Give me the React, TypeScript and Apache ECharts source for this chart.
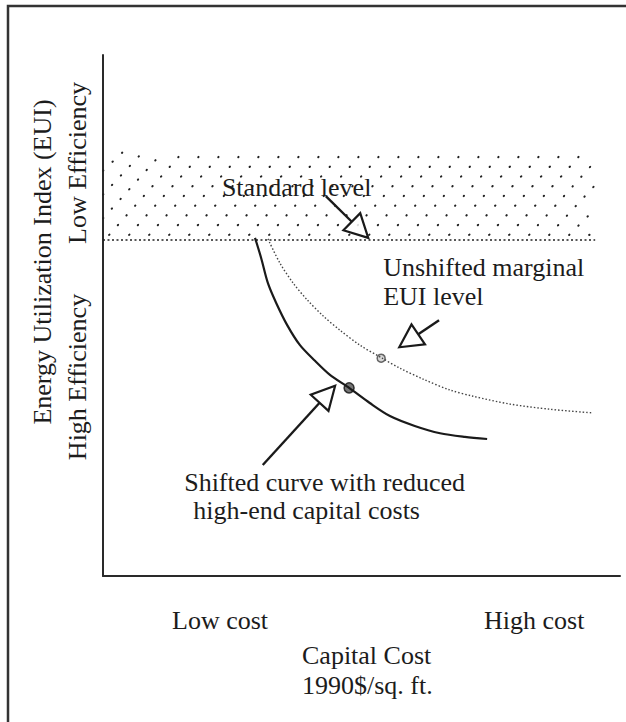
import React, { useEffect, useRef } from "react";
import * as echarts from "echarts";

// Conceptual axes: x = capital cost (0 = low, 100 = high), y = EUI (100 = low efficiency, 0 = high efficiency)
const standardLevel = 64.5;
const hatchTop = 81.4;
const hatchRight = 95.2;

const shiftedX = [29.4, 30.6, 31.9, 33.5, 35.6, 38.1, 41.0, 43.9, 47.6, 51.6, 55.5, 60.3, 65.2, 70.0, 74.3];
const shiftedY = [64.9, 61.0, 56.2, 52.4, 48.2, 44.3, 41.3, 38.6, 36.1, 33.2, 30.7, 28.8, 27.4, 26.7, 26.3];

const unshiftedX = [31.9, 34.2, 36.8, 39.5, 42.6, 45.8, 49.7, 54.0, 57.4, 61.9, 67.1, 71.6, 78.7, 86.5, 94.8];
const unshiftedY = [64.7, 60.1, 56.2, 53.0, 49.9, 47.2, 44.3, 41.8, 39.9, 37.8, 35.7, 34.5, 33.0, 32.0, 31.3];

const shiftedMarker = [47.6, 36.1];
const unshiftedMarker = [53.8, 41.8];

// [tailX, tailY, tipX, tipY]
const arrows = [
  [43.1, 72.9, 51.3, 64.9],
  [65.0, 49.1, 57.3, 43.9],
  [30.9, 21.3, 44.9, 36.5],
];

const annotationTexts = [
  "Standard level",
  "Unshifted marginal",
  "EUI level",
  "Shifted curve with reduced",
  " high-end capital costs",
];
const annotationX = [23.0, 54.2, 54.2, 15.7, 16.2];
const annotationY = [74.5, 59.3, 53.6, 18.0, 12.5];

const xTickLabels = ["Low cost", "High cost"];
const xTitle = ["Capital Cost", "1990$/sq. ft."];
const yTitle = "Energy Utilization Index (EUI)";
const yBandLabels = ["Low Efficiency", "High Efficiency"];

const FONT = '"Liberation Serif", "DejaVu Serif", serif';
const INK = "#1c1c1c";

export default function App() {
  const ref = useRef<HTMLDivElement>(null);
  useEffect(() => {
    if (!ref.current) return;
    const chart = echarts.init(ref.current, undefined, { renderer: "svg" });
    const textStyle = (text: string, align = "left") => ({
      text,
      fill: INK,
      fontSize: 26,
      fontFamily: FONT,
      align,
      verticalAlign: "middle",
    });

    chart.setOption({
      animation: false,
      backgroundColor: "#ffffff",
      grid: { left: 103, top: 55, right: 6, bottom: 146 },
      xAxis: {
        type: "value",
        min: 0,
        max: 100,
        axisLine: { show: true, lineStyle: { color: "#2a2a2a", width: 2 } },
        axisTick: { show: false },
        axisLabel: { show: false },
        splitLine: { show: false },
      },
      yAxis: {
        type: "value",
        min: 0,
        max: 100,
        axisLine: { show: true, lineStyle: { color: "#2a2a2a", width: 2 } },
        axisTick: { show: false },
        axisLabel: { show: false },
        splitLine: { show: false },
      },
      graphic: [
        {
          type: "rect",
          shape: { x: 8, y: 6, width: 700, height: 800 },
          style: { fill: "none", stroke: "#333", lineWidth: 2.5 },
          silent: true,
        },
        { type: "text", x: 172, y: 620, style: textStyle(xTickLabels[0]) },
        { type: "text", x: 484, y: 620, style: textStyle(xTickLabels[1]) },
        { type: "text", x: 302, y: 655, style: textStyle(xTitle[0]) },
        { type: "text", x: 302, y: 685, style: textStyle(xTitle[1]) },
        { type: "text", x: 42, y: 262, rotation: Math.PI / 2, style: textStyle(yTitle, "center") },
        { type: "text", x: 77, y: 163, rotation: Math.PI / 2, style: textStyle(yBandLabels[0], "center") },
        { type: "text", x: 77, y: 377, rotation: Math.PI / 2, style: textStyle(yBandLabels[1], "center") },
      ],
      series: [
        {
          type: "custom",
          name: "hatch",
          clip: false,
          silent: true,
          data: [[0, standardLevel, hatchRight, hatchTop]],
          encode: { x: [0, 2], y: [1, 3] },
          renderItem: (params: any, api: any) => {
            const pTL = api.coord([api.value(0), api.value(3)]);
            const pBR = api.coord([api.value(2), api.value(1)]);
            const x0 = pTL[0], y0 = pTL[1], x1 = pBR[0], y1 = pBR[1];
            const H = y1 - y0;
            const ang = (50 * Math.PI) / 180;
            const t = Math.tan(ang);
            const run = H / t;
            const spacing = 20;
            const children: any[] = [];
            for (let c = x0 - run; c <= x1 + 0.01; c += spacing) {
              let sx = c, sy = y1;
              let ex = c + run, ey = y0;
              if (sx < x0) { sy = y1 - (x0 - c) * t; sx = x0; }
              if (ex > x1) { ey = y1 - (x1 - c) * t; ex = x1; }
              if (sy - ey < 1) continue;
              children.push({
                type: "line",
                shape: { x1: sx, y1: sy - 5, x2: ex, y2: ey },
                style: { stroke: "#222", lineWidth: 2, lineDash: [0.5, 12.5], lineCap: "round" },
              });
            }
            return { type: "group", children };
          },
        },
        {
          type: "line",
          name: "standard",
          data: [[0, standardLevel], [hatchRight, standardLevel]],
          symbol: "none",
          lineStyle: { color: "#222", width: 1.6, type: [2, 2.5] },
          silent: true,
        },
        {
          type: "line",
          name: "unshifted",
          data: unshiftedX.map((x, i) => [x, unshiftedY[i]]),
          smooth: 0.3,
          symbol: "none",
          lineStyle: { color: "#444", width: 1.4, type: [1.5, 2] },
          silent: true,
        },
        {
          type: "line",
          name: "shifted",
          data: shiftedX.map((x, i) => [x, shiftedY[i]]),
          smooth: 0.3,
          symbol: "none",
          lineStyle: { color: "#1a1a1a", width: 2.2 },
          silent: true,
        },
        {
          type: "scatter",
          name: "unshiftedMarker",
          data: [unshiftedMarker],
          symbol: "circle",
          symbolSize: 8,
          itemStyle: { color: "#ccc", borderColor: "#444", borderWidth: 1.5 },
          silent: true,
        },
        {
          type: "scatter",
          name: "shiftedMarker",
          data: [shiftedMarker],
          symbol: "circle",
          symbolSize: 10,
          itemStyle: { color: "#555", borderColor: "#111", borderWidth: 1.5 },
          silent: true,
        },
        {
          type: "custom",
          name: "arrows",
          clip: false,
          silent: true,
          data: arrows,
          encode: { x: [0, 2], y: [1, 3] },
          renderItem: (params: any, api: any) => {
            const tail = api.coord([api.value(0), api.value(1)]);
            const tip = api.coord([api.value(2), api.value(3)]);
            const dx = tip[0] - tail[0], dy = tip[1] - tail[1];
            const len = Math.sqrt(dx * dx + dy * dy);
            const ux = dx / len, uy = dy / len;
            const L = 23, W = 12;
            const bx = tip[0] - ux * L, by = tip[1] - uy * L;
            const nx = -uy, ny = ux;
            return {
              type: "group",
              children: [
                {
                  type: "line",
                  shape: { x1: tail[0], y1: tail[1], x2: bx, y2: by },
                  style: { stroke: "#1a1a1a", lineWidth: 2.4 },
                },
                {
                  type: "polygon",
                  shape: {
                    points: [
                      [tip[0], tip[1]],
                      [bx + nx * W, by + ny * W],
                      [bx - nx * W, by - ny * W],
                    ],
                  },
                  style: { fill: "rgba(255,255,255,0.85)", stroke: "#1a1a1a", lineWidth: 2.2, lineJoin: "miter" },
                },
              ],
            };
          },
        },
        {
          type: "custom",
          name: "annotations",
          clip: false,
          silent: true,
          data: annotationX.map((x, i) => [x, annotationY[i], i]),
          encode: { x: 0, y: 1 },
          renderItem: (params: any, api: any) => {
            const p = api.coord([api.value(0), api.value(1)]);
            const idx = api.value(2);
            return {
              type: "text",
              x: p[0],
              y: p[1],
              style: textStyle(annotationTexts[idx]),
            };
          },
        },
      ],
    });
    return () => chart.dispose();
  }, []);
  return (
    <div
      ref={ref}
      style={{ position: "absolute", left: 0, top: 0, width: 626, height: 722, background: "#fff" }}
    />
  );
}
